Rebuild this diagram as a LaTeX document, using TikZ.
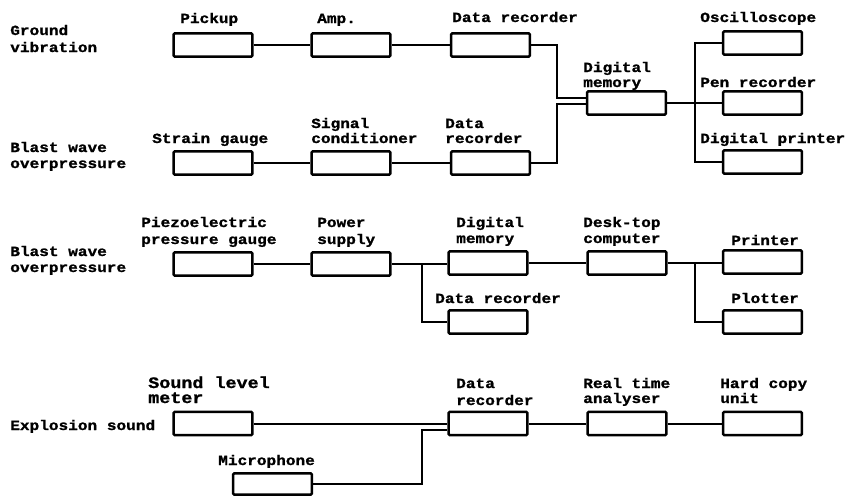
\documentclass[tikz,border=0pt]{standalone}
\usepackage{fontspec}
\newfontfamily\labfont{Liberation Mono}[FakeStretch=1.15, BoldFeatures={FakeBold=1.2}]
\newcommand{\lab}{\labfont\bfseries\fontsize{10.5}{12}\selectfont}
\newcommand{\labbig}{\labfont\bfseries\fontsize{12}{14}\selectfont}
\begin{document}
\begin{tikzpicture}[x=0.75pt,y=-0.75pt,
  box/.style={draw, line width=1.9pt, inner sep=0pt, minimum width=59pt, minimum height=17.5pt, rounded corners=0.8pt},
  lbl/.style={anchor=base west, inner sep=0pt, font=\lab},
  lblbig/.style={anchor=base west, inner sep=0pt, font=\labbig},
  conn/.style={line width=1.5pt}]
\useasboundingbox (0,0) rectangle (850,497);
% ---- boxes ----
\node[box] (pick) at (213,45) {};
\node[box] (amp)  at (351,45) {};
\node[box] (dr1)  at (490.5,45) {};
\node[box] (sg)   at (213,163) {};
\node[box] (sc)   at (351,163) {};
\node[box] (dr2)  at (490.5,163) {};
\node[box] (dm)   at (626.5,103) {};
\node[box] (osc)  at (762.5,43) {};
\node[box] (pen)  at (762.5,103) {};
\node[box] (dprn) at (762.5,162) {};
\node[box] (piezo) at (213,264) {};
\node[box] (ps)    at (351,264) {};
\node[box] (dm2)   at (488,263) {};
\node[box] (dr3)   at (488,322) {};
\node[box] (desk)  at (627,263) {};
\node[box] (prn)   at (762.5,262) {};
\node[box] (plot)  at (762.5,322) {};
\node[box] (slm)   at (213,423.5) {};
\node[box] (dr4)   at (488,423.5) {};
\node[box] (rta)   at (627,423.5) {};
\node[box] (hcu)   at (762.5,423.5) {};
\node[box, minimum height=16pt] (mic) at (272.5,484) {};
% ---- junctions ----
\coordinate (j1) at (557,98);
\coordinate (j2) at (557,104);
\coordinate (k) at (695,0);
\coordinate (m) at (422,0);
\coordinate (m4) at (422,430);
% ---- connectors ----
\draw[conn] (pick.east) -- (amp.west);
\draw[conn] (amp.east) -- (dr1.west);
\draw[conn] (sg.east) -- (sc.west);
\draw[conn] (sc.east) -- (dr2.west);
\draw[conn] (dr1.east) -| (j1) -- (j1 -| dm.west);
\draw[conn] (dr2.east) -| (j2) -- (j2 -| dm.west);
\draw[conn] (dm.east) -- (pen.west);
\draw[conn] (osc.west) -| (k |- dprn.west) -- (dprn.west);
\draw[conn] (piezo.east) -- (ps.west);
\draw[conn] (ps.east) -- (ps.east -| dm2.west);
\draw[conn] (m |- ps.east) |- (dr3.west);
\draw[conn] (dm2.east) -- (desk.west);
\draw[conn] (desk.east) -- (desk.east -| prn.west);
\draw[conn] (k |- desk.east) |- (plot.west);
\draw[conn] (slm.east) -- (dr4.west);
\draw[conn] (mic.east) -| (m4) -- (m4 -| dr4.west);
\draw[conn] (dr4.east) -- (rta.west);
\draw[conn] (rta.east) -- (hcu.west);
% ---- labels ----
\node[lbl] (t1)  at (10,35) {Ground};
\node[lbl] (t2)  at (10,52) {vibration};
\node[lbl] (t3)  at (180,23) {Pickup};
\node[lbl] (t4)  at (317,23) {Amp.};
\node[lbl] (t5)  at (452,22) {Data recorder};
\node[lbl] (t6)  at (700,22) {Oscilloscope};
\node[lbl] (t7)  at (583,72) {Digital};
\node[lbl] (t8)  at (583,87) {memory};
\node[lbl] (t9)  at (700,87) {Pen recorder};
\node[lbl] (t10) at (700,143) {Digital printer};
\node[lbl] (t11) at (10,152) {Blast wave};
\node[lbl] (t12) at (10,168) {overpressure};
\node[lbl] (t13) at (152,143) {Strain gauge};
\node[lbl] (t14) at (311,128) {Signal};
\node[lbl] (t15) at (311,143) {conditioner};
\node[lbl] (t16) at (445,128) {Data};
\node[lbl] (t17) at (445,143) {recorder};
\node[lbl] (t18) at (10,256) {Blast wave};
\node[lbl] (t19) at (10,272) {overpressure};
\node[lbl] (t20) at (141,227) {Piezoelectric};
\node[lbl] (t21) at (141,244) {pressure gauge};
\node[lbl] (t22) at (317,227) {Power};
\node[lbl] (t23) at (317,244) {supply};
\node[lbl] (t24) at (456,227) {Digital};
\node[lbl] (t25) at (456,243) {memory};
\node[lbl] (t26) at (583,227) {Desk-top};
\node[lbl] (t27) at (583,243) {computer};
\node[lbl] (t28) at (731,245) {Printer};
\node[lbl] (t29) at (435,303) {Data recorder};
\node[lbl] (t30) at (731,303) {Plotter};
\node[lblbig] (t31) at (148,388) {Sound level};
\node[lblbig] (t32) at (148,403) {meter};
\node[lbl] (t33) at (10,430) {Explosion sound};
\node[lbl] (t34) at (218,465) {Microphone};
\node[lbl] (t35) at (456,388) {Data};
\node[lbl] (t36) at (456,405) {recorder};
\node[lbl] (t37) at (583,388) {Real time};
\node[lbl] (t38) at (583,403) {analyser};
\node[lbl] (t39) at (720,388) {Hard copy};
\node[lbl] (t40) at (720,403) {unit};
\end{tikzpicture}
\end{document}
